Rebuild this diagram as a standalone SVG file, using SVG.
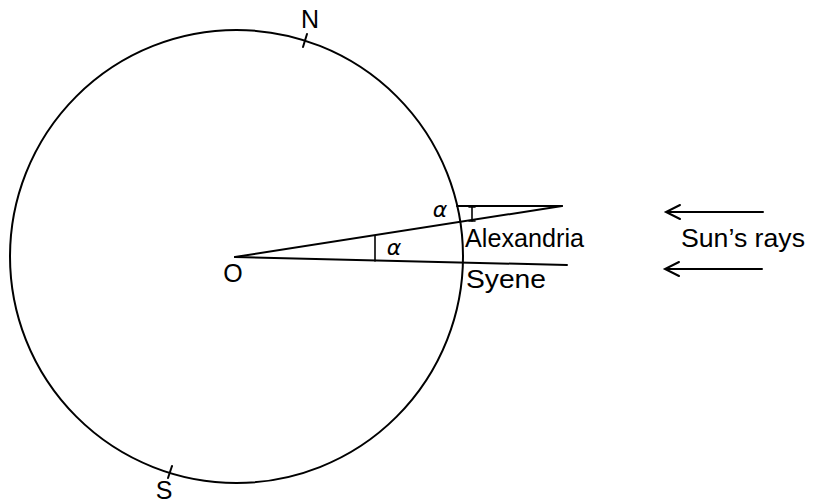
<svg xmlns="http://www.w3.org/2000/svg" width="819" height="504" viewBox="0 0 819 504">
<style>
.ln{fill:none;stroke:#000;stroke-width:2;stroke-linecap:round}
.thin{fill:none;stroke:#000;stroke-width:1.6;stroke-linecap:round}
.t{font-family:"Liberation Sans","DejaVu Sans",sans-serif;font-size:25px;fill:#000}
.a{font-family:"DejaVu Sans",sans-serif;font-size:22px;font-style:italic;fill:#000}
</style>
<rect width="819" height="504" fill="#fff"/>
<g id="earth">
<circle class="ln" cx="236.5" cy="256.5" r="226.5"/>
<line class="ln" x1="303" y1="47" x2="307" y2="34"/>
<line class="ln" x1="168" y1="478" x2="172" y2="466"/>
<text class="t" x="310" y="28" text-anchor="middle">N</text>
<text class="t" x="164" y="499" text-anchor="middle">S</text>
<text class="t" x="233" y="282" text-anchor="middle">O</text>
</g>
<g id="connectors">
<line class="ln" x1="235" y1="257" x2="562" y2="206"/>
<line class="ln" x1="235" y1="257" x2="567" y2="265"/>
<line class="ln" x1="457" y1="206" x2="562" y2="206"/>
<line class="thin" x1="375" y1="236" x2="375" y2="261"/>
<line class="thin" x1="472" y1="207" x2="472" y2="221"/>
<line class="thin" x1="469" y1="207" x2="475" y2="207"/>
<line class="thin" x1="469" y1="221" x2="475" y2="221"/>
</g>
<g id="alexandria">
<text class="t" x="465" y="247" textLength="119" lengthAdjust="spacingAndGlyphs">Alexandria</text>
<text class="a" x="440" y="217" text-anchor="middle">α</text>
<text class="a" x="394" y="255" text-anchor="middle">α</text>
</g>
<g id="syene">
<text class="t" x="466" y="288" textLength="80" lengthAdjust="spacingAndGlyphs">Syene</text>
</g>
<g id="sun">
<text class="t" x="681" y="247" textLength="124" lengthAdjust="spacingAndGlyphs">Sun’s rays</text>
<path class="ln" d="M763 212 H666 M680 205 L666 212 L680 219"/>
<path class="ln" d="M762 269 H665 M679 262 L665 269 L679 276"/>
</g>
</svg>
